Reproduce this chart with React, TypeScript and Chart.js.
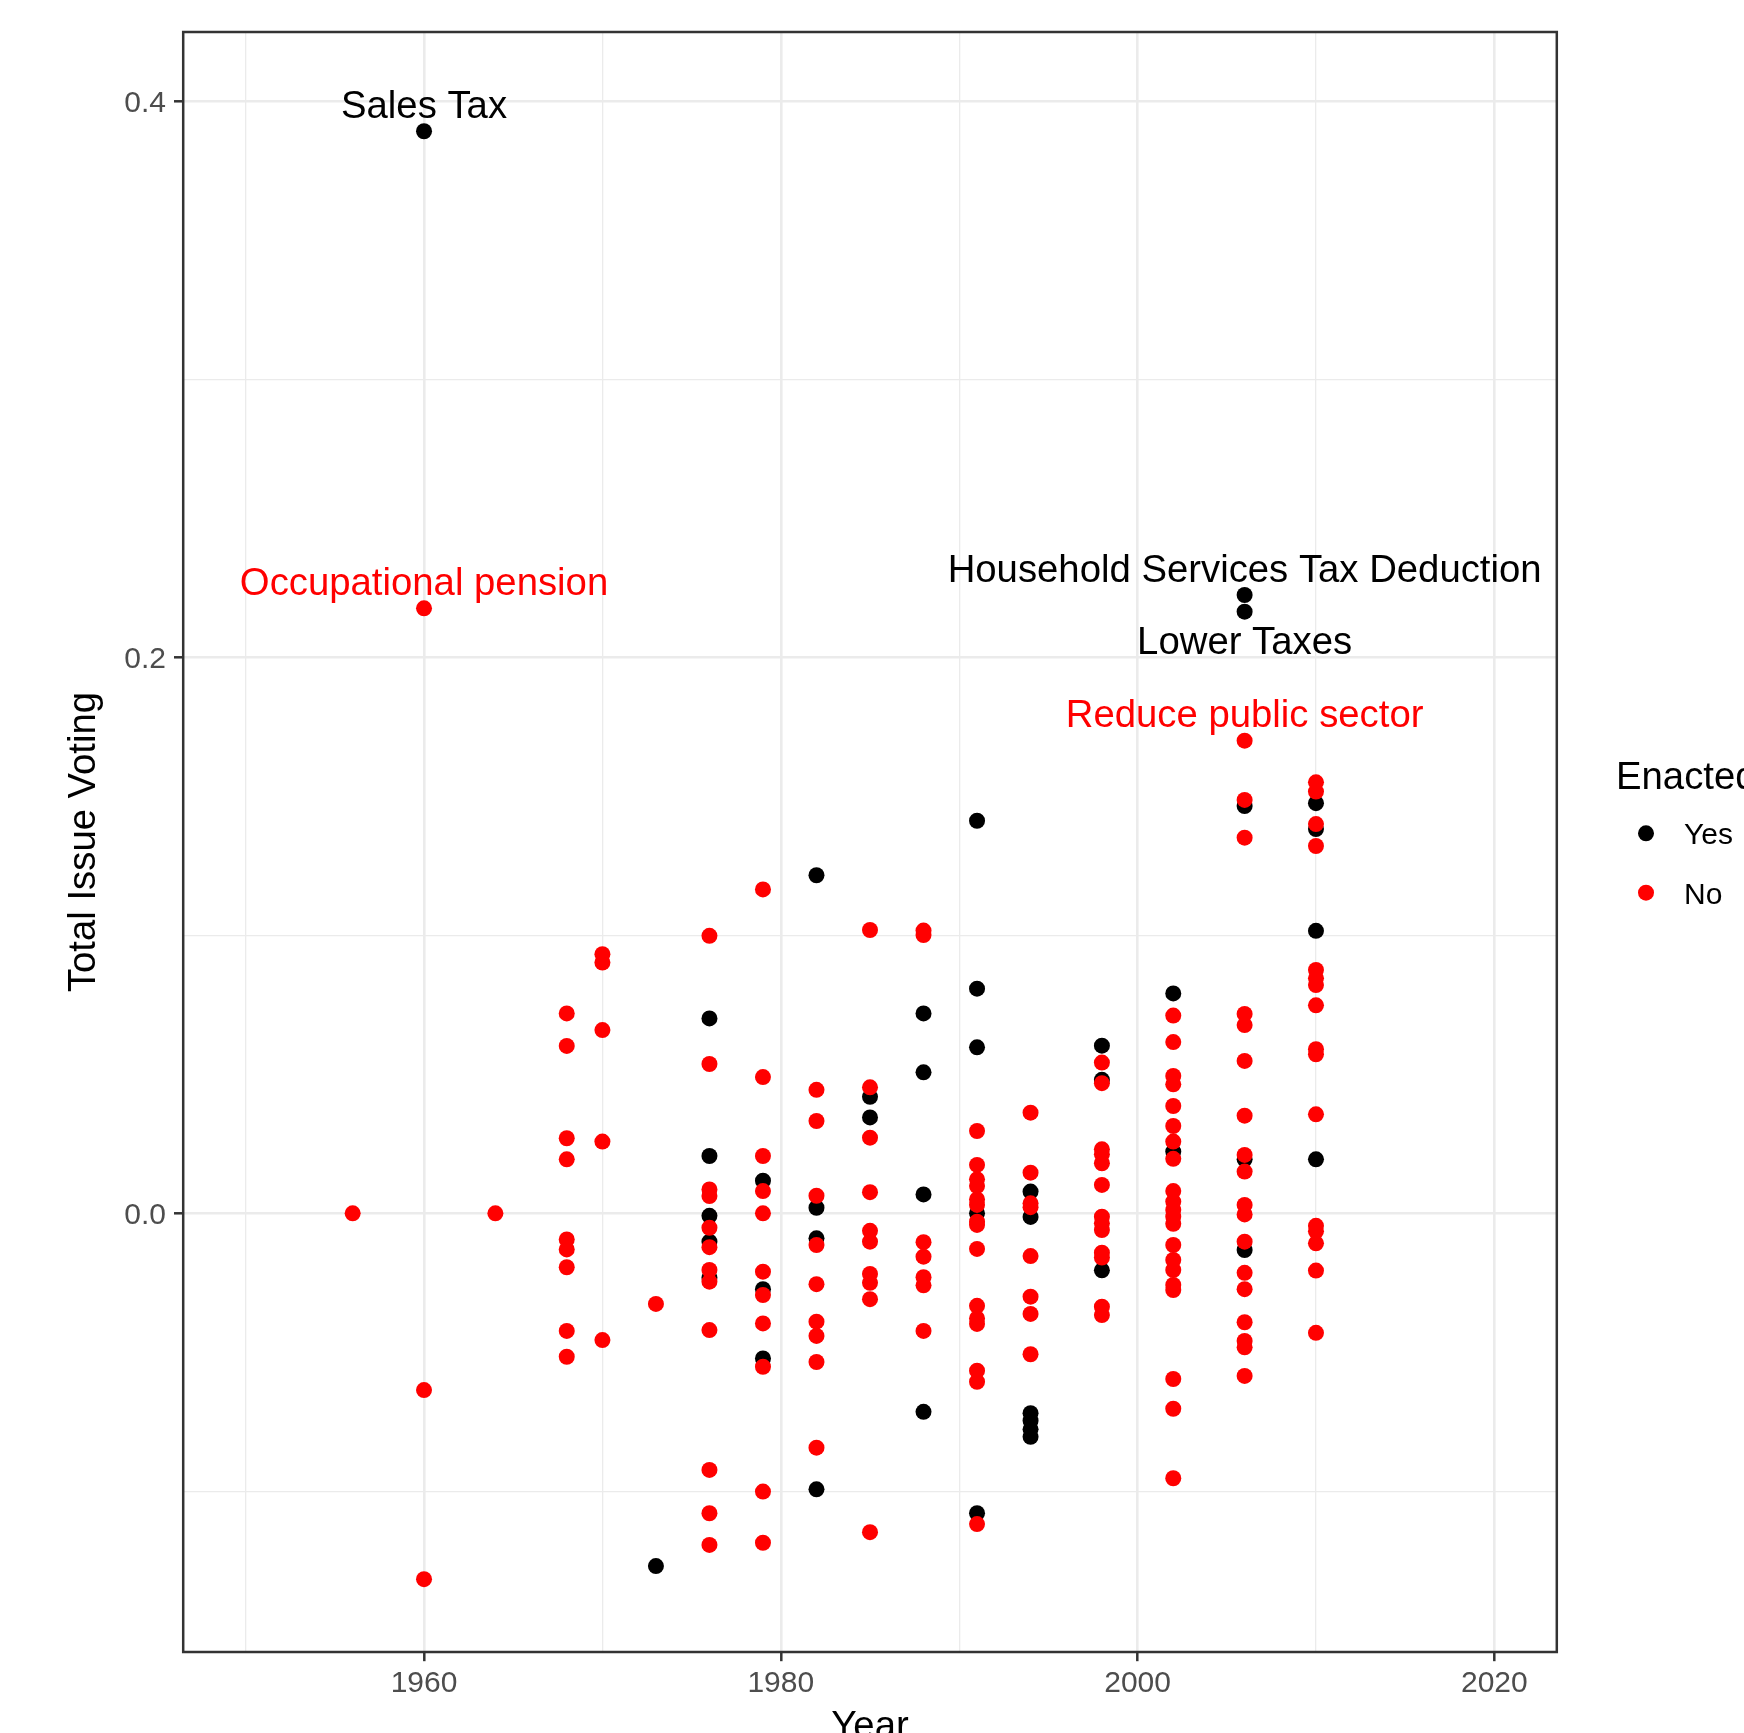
import React, { useEffect, useRef } from "react";
import { Chart, registerables } from "chart.js";

Chart.register(...registerables);

// ---------- data ----------
const years = [1956, 1960, 1964, 1968, 1970, 1973, 1976, 1979, 1982, 1985, 1988, 1991, 1994, 1998, 2002, 2006, 2010];

// Enacted = Yes (black)
const yesValues: number[][] = [
  [], // 1956
  [0.3892], // 1960
  [], // 1964
  [], // 1968
  [], // 1970
  [-0.1269], // 1973
  [0.0701, 0.0206, -0.0009, -0.0102, -0.0232], // 1976
  [0.0117, -0.0273, -0.0522], // 1979
  [0.1216, 0.002, -0.009, -0.0993], // 1982
  [0.0419, 0.0345], // 1985
  [0.0719, 0.0507, 0.0068, -0.0714], // 1988
  [0.1412, 0.0808, 0.0597, 0.0, -0.1079], // 1991
  [0.0078, -0.0013, -0.0719, -0.0746, -0.0777, -0.0804], // 1994
  [0.0603, 0.048, -0.0205], // 1998
  [0.0791, 0.0222], // 2002
  [0.2224, 0.2164, 0.1465, 0.0194, -0.0132], // 2006
  [0.1475, 0.1382, 0.1016, 0.0194], // 2010
];

// Enacted = No (red)
const noValues: number[][] = [
  [0.0], // 1956
  [0.2176, -0.0636, -0.1316], // 1960
  [0.0], // 1964
  [0.0719, 0.0602, 0.027, 0.0194, -0.0094, -0.013, -0.0194, -0.0423, -0.0516], // 1968
  [0.0932, 0.0902, 0.0659, 0.0258, -0.0456], // 1970
  [-0.0326], // 1973
  [0.0998, 0.0537, 0.0086, 0.0062, -0.0052, -0.0122, -0.0204, -0.0246, -0.042, -0.0923, -0.1079, -0.1193], // 1976
  [0.1165, 0.049, 0.0206, 0.008, 0.0, -0.021, -0.0294, -0.0396, -0.0552, -0.1001, -0.1185], // 1979
  [0.0444, 0.0332, 0.0063, -0.0114, -0.0255, -0.039, -0.0441, -0.0535, -0.0843], // 1982
  [0.1019, 0.0453, 0.0272, 0.0076, -0.0063, -0.0102, -0.0218, -0.025, -0.0309, -0.1147], // 1985
  [0.1017, 0.1001, -0.0104, -0.0156, -0.023, -0.0259, -0.0423], // 1988
  [0.0296, 0.0174, 0.0122, 0.0098, 0.005, 0.003, -0.003, -0.0042, -0.0128, -0.0333, -0.0378, -0.0398, -0.0566, -0.0606, -0.1118], // 1991
  [0.0362, 0.0146, 0.0036, 0.0022, -0.0154, -0.03, -0.0362, -0.0507], // 1994
  [0.0542, 0.0468, 0.023, 0.0212, 0.018, 0.0102, -0.0012, -0.0036, -0.006, -0.0142, -0.0159, -0.0336, -0.0366], // 1998
  [0.0711, 0.0616, 0.0494, 0.0464, 0.0386, 0.0314, 0.0258, 0.0196, 0.008, 0.0042, 0.0012, -0.0012, -0.0038, -0.0114, -0.0168, -0.0204, -0.0258, -0.0276, -0.0596, -0.0703, -0.0953], // 2002
  [0.17, 0.1487, 0.1351, 0.0717, 0.0677, 0.0548, 0.0351, 0.021, 0.015, 0.003, -0.0004, -0.0102, -0.0214, -0.0273, -0.0392, -0.0459, -0.0482, -0.0585], // 2006
  [0.155, 0.1517, 0.14, 0.1321, 0.0875, 0.0845, 0.0821, 0.0748, 0.059, 0.0572, 0.0356, -0.0045, -0.0065, -0.0108, -0.0206, -0.043], // 2010
];

// annotated points
const labelTexts = ["Sales Tax", "Occupational pension", "Household Services Tax Deduction", "Lower Taxes", "Reduce public sector"];
const labelYears = [1960, 1960, 2006, 2006, 2006];
const labelValues = [0.3892, 0.2176, 0.2224, 0.2164, 0.17];
const labelSeries = ["Yes", "No", "Yes", "Yes", "No"];
const labelSides = ["above", "above", "above", "below", "above"];

// axes
const xTicks = [1950, 1960, 1970, 1980, 1990, 2000, 2010, 2020];
const xMajor = [1960, 1980, 2000, 2020];
const yTicks = [-0.1, 0, 0.1, 0.2, 0.3, 0.4];
const yMajor = [0, 0.2, 0.4];
const legendTitle = "Enacted";
const legendLabels = ["Yes", "No"];
const xTitle = "Year";
const yTitle = "Total Issue Voting";

// ---------- styles ----------
const FONT = '"Liberation Sans", Arial, Helvetica, sans-serif';
const BIG = 38.3;
const SMALL = 30;
const BLACK = "#000000";
const RED = "#FF0000";
const GRID = "#EBEBEB";
const AXIS = "#333333";

const isMajor = (v: number, majors: number[]) => majors.some((m) => Math.abs(m - v) < 1e-9);

function toPoints(values: number[][]) {
  const pts: { x: number; y: number }[] = [];
  years.forEach((yr, i) => values[i].forEach((v) => pts.push({ x: yr, y: v })));
  return pts;
}

const decorPlugin = {
  id: "decor",
  afterDatasetsDraw(chart: any) {
    const { ctx, chartArea: a, scales } = chart;
    ctx.save();
    // text annotations
    ctx.font = `${BIG}px ${FONT}`;
    ctx.textAlign = "center";
    ctx.textBaseline = "alphabetic";
    labelTexts.forEach((t, i) => {
      const x = scales.x.getPixelForValue(labelYears[i]);
      const above = labelSides[i] === "above";
      const y = scales.y.getPixelForValue(labelValues[i] + (above ? 0.01 : -0.01));
      ctx.fillStyle = labelSeries[i] === "Yes" ? BLACK : RED;
      ctx.fillText(t, x, y + 14.4);
    });
    // panel border
    ctx.strokeStyle = AXIS;
    ctx.lineWidth = 2.5;
    ctx.strokeRect(a.left, a.top, a.right - a.left, a.bottom - a.top);
    ctx.restore();
  },
  afterDraw(chart: any) {
    const { ctx, chartArea: a } = chart;
    ctx.save();
    ctx.fillStyle = BLACK;
    // x title
    ctx.font = `${BIG}px ${FONT}`;
    ctx.textAlign = "center";
    ctx.textBaseline = "alphabetic";
    ctx.fillText(xTitle, (a.left + a.right) / 2, 1738);
    // y title
    ctx.save();
    ctx.translate(94.5, (a.top + a.bottom) / 2);
    ctx.rotate(-Math.PI / 2);
    ctx.fillText(yTitle, 0, 0);
    ctx.restore();
    // legend
    ctx.textAlign = "left";
    ctx.font = `${BIG}px ${FONT}`;
    ctx.fillText(legendTitle, 1616, 789);
    ctx.font = `${SMALL}px ${FONT}`;
    const rowsY = [833.3, 892.7];
    legendLabels.forEach((lab, i) => {
      ctx.fillStyle = i === 0 ? BLACK : RED;
      ctx.beginPath();
      ctx.arc(1646, rowsY[i], 8, 0, Math.PI * 2);
      ctx.fill();
      ctx.fillStyle = BLACK;
      ctx.fillText(lab, 1684, rowsY[i] + 10.8);
    });
    ctx.restore();
  },
};

export default function App() {
  const ref = useRef<HTMLCanvasElement | null>(null);

  useEffect(() => {
    if (!ref.current) return;
    const chart = new Chart(ref.current, {
      type: "scatter",
      data: {
        datasets: [
          {
            label: "No",
            data: toPoints(noValues),
            backgroundColor: RED,
            borderWidth: 0,
            pointRadius: 8,
            pointHoverRadius: 8,
            order: 0,
          },
          {
            label: "Yes",
            data: toPoints(yesValues),
            backgroundColor: BLACK,
            borderWidth: 0,
            pointRadius: 8,
            pointHoverRadius: 8,
            order: 1,
          },
        ],
      },
      options: {
        animation: false,
        responsive: false,
        devicePixelRatio: 1,
        events: [],
        layout: { padding: { left: 0, top: 32, right: 1744 - 1556.8, bottom: 0 } },
        plugins: {
          legend: { display: false },
          tooltip: { enabled: false },
          title: { display: false },
        },
        scales: {
          x: {
            type: "linear",
            min: 1946.5,
            max: 2023.5,
            afterBuildTicks: (s: any) => {
              s.ticks = xTicks.map((v) => ({ value: v }));
            },
            afterFit: (s: any) => {
              s.height = 81;
            },
            border: { display: false },
            grid: {
              color: (c: any) => GRID,
              lineWidth: (c: any) => (isMajor(c.tick?.value, xMajor) ? 2.6 : 1.3),
              tickColor: (c: any) => (isMajor(c.tick?.value, xMajor) ? AXIS : "rgba(0,0,0,0)"),
              tickWidth: 2.5,
              tickLength: 9.2,
              drawTicks: true,
            },
            ticks: {
              autoSkip: false,
              maxRotation: 0,
              minRotation: 0,
              padding: 4.2,
              color: "#4D4D4D",
              font: { family: FONT, size: SMALL },
              callback: (v: any) => (isMajor(Number(v), xMajor) ? String(v) : ""),
            },
          },
          y: {
            type: "linear",
            min: -0.1578,
            max: 0.4249,
            afterBuildTicks: (s: any) => {
              s.ticks = yTicks.map((v) => ({ value: v }));
            },
            afterFit: (s: any) => {
              s.width = 183.2;
            },
            border: { display: false },
            grid: {
              color: (c: any) => GRID,
              lineWidth: (c: any) => (isMajor(c.tick?.value, yMajor) ? 2.6 : 1.3),
              tickColor: (c: any) => (isMajor(c.tick?.value, yMajor) ? AXIS : "rgba(0,0,0,0)"),
              tickWidth: 2.5,
              tickLength: 9.2,
              drawTicks: true,
            },
            ticks: {
              autoSkip: false,
              padding: 8,
              labelOffset: 2.2,
              color: "#4D4D4D",
              font: { family: FONT, size: SMALL },
              callback: (v: any) => (isMajor(Number(v), yMajor) ? Number(v).toFixed(1) : ""),
            },
          },
        },
      },
      plugins: [decorPlugin],
    });
    return () => chart.destroy();
  }, []);

  return (
    <div style={{ position: "fixed", left: 0, top: 0, width: 1744, height: 1733, background: "#FFFFFF", overflow: "hidden" }}>
      <canvas ref={ref} width={1744} height={1733} style={{ display: "block" }} />
    </div>
  );
}
